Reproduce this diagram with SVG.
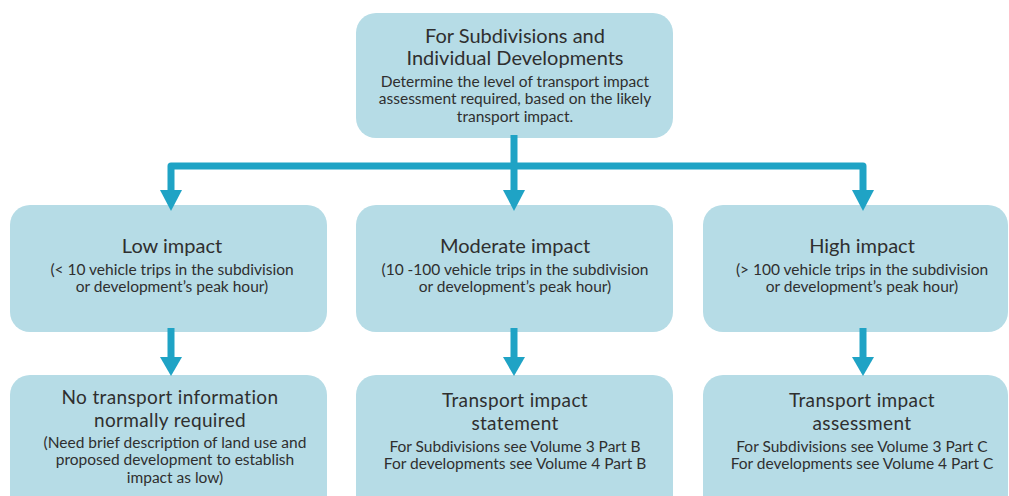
<svg xmlns="http://www.w3.org/2000/svg" width="1009" height="496" viewBox="0 0 1009 496">
<style>
.box{fill:#b6dce6;}
.t{font-family:Lato,"Open Sans",sans-serif;fill:#2f2f2f;text-anchor:middle;}
.h{font-size:20px;}
.h2{font-size:19px;letter-spacing:0.35px;}
.s{font-size:15.5px;}
.ln{fill:none;stroke:#1fa3c5;stroke-width:7;stroke-linejoin:round;stroke-linecap:butt;}
.ah{fill:#1fa3c5;}
</style>
<rect width="1009" height="496" fill="#ffffff"/>
<g id="top">
<rect class="box" x="356" y="13" width="317" height="125" rx="20"/>
<text class="t h" x="515" y="43">For Subdivisions and</text>
<text class="t h" x="515" y="65">Individual Developments</text>
<text class="t s" x="515" y="87">Determine the level of transport impact</text>
<text class="t s" x="515" y="104">assessment required, based on the likely</text>
<text class="t s" x="515" y="122">transport impact.</text>
</g>
<g id="low">
<rect class="box" x="10" y="205" width="317" height="127" rx="20"/>
<text class="t h" x="172" y="253">Low impact</text>
<text class="t s" x="172" y="275">(&lt; 10 vehicle trips in the subdivision</text>
<text class="t s" x="172" y="292">or development’s peak hour)</text>
</g>
<g id="moderate">
<rect class="box" x="356" y="205" width="317" height="127" rx="20"/>
<text class="t h" x="515" y="253">Moderate impact</text>
<text class="t s" x="515" y="275">(10 -100 vehicle trips in the subdivision</text>
<text class="t s" x="515" y="292">or development’s peak hour)</text>
</g>
<g id="high">
<rect class="box" x="703" y="205" width="305" height="127" rx="20"/>
<text class="t h" x="862" y="253">High impact</text>
<text class="t s" x="862" y="275">(&gt; 100 vehicle trips in the subdivision</text>
<text class="t s" x="862" y="292">or development’s peak hour)</text>
</g>
<g id="none">
<rect class="box" x="10" y="375" width="317" height="150" rx="20"/>
<text class="t h2" x="170" y="404">No transport information</text>
<text class="t h2" x="170" y="427">normally required</text>
<text class="t s" x="175" y="448">(Need brief description of land use and</text>
<text class="t s" x="175" y="465">proposed development to establish</text>
<text class="t s" x="175" y="483">impact as low)</text>
</g>
<g id="statement">
<rect class="box" x="356" y="375" width="317" height="150" rx="20"/>
<text class="t h2" x="515" y="407">Transport impact</text>
<text class="t h2" x="515" y="430">statement</text>
<text class="t s" x="515" y="452">For Subdivisions see Volume 3 Part B</text>
<text class="t s" x="515" y="469">For developments see Volume 4 Part B</text>
</g>
<g id="assessment">
<rect class="box" x="703" y="375" width="305" height="150" rx="20"/>
<text class="t h2" x="862" y="407">Transport impact</text>
<text class="t h2" x="862" y="430">assessment</text>
<text class="t s" x="862" y="452">For Subdivisions see Volume 3 Part C</text>
<text class="t s" x="862" y="469">For developments see Volume 4 Part C</text>
</g>
<g id="connectors">
<path class="ln" d="M514 135 V191"/>
<path class="ln" d="M171 191 V166 H863 V191"/>
<path class="ah" d="M503 190 H525 L514 211 Z"/>
<path class="ah" d="M160 190 H182 L171 211 Z"/>
<path class="ah" d="M852 190 H874 L863 211 Z"/>
<path class="ln" d="M171 328 V358"/>
<path class="ln" d="M514 328 V358"/>
<path class="ln" d="M863 328 V358"/>
<path class="ah" d="M160 357 H182 L171 376 Z"/>
<path class="ah" d="M503 357 H525 L514 376 Z"/>
<path class="ah" d="M852 357 H874 L863 376 Z"/>
</g>
</svg>
